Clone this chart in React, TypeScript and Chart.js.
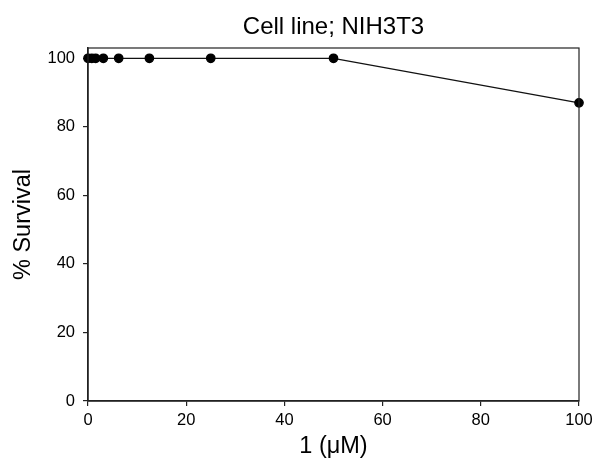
import React, { useEffect, useRef } from "react";
import { Chart, registerables } from "chart.js";

Chart.register(...registerables);

const concentrations = [0, 0.78, 1.56, 3.125, 6.25, 12.5, 25, 50, 100];
const survival = [100, 100, 100, 100, 100, 100, 100, 100, 87];
const xTicks = [0, 20, 40, 60, 80, 100];
const yTicks = [0, 20, 40, 60, 80, 100];

const FONT = "'Liberation Sans', Arial, sans-serif";

const boxPlugin = {
  id: "boxPlugin",
  afterDraw(chart: any) {
    const { ctx, chartArea } = chart;
    ctx.save();
    ctx.strokeStyle = "#222";
    ctx.lineWidth = 1.2;
    ctx.strokeRect(chartArea.left, chartArea.top, chartArea.right - chartArea.left, chartArea.bottom - chartArea.top);
    ctx.restore();
  },
};

export default function App() {
  const ref = useRef<HTMLCanvasElement>(null);
  useEffect(() => {
    document.body.style.margin = "0";
    const chart = new Chart(ref.current!, {
      type: "line",
      data: {
        datasets: [
          {
            data: concentrations.map((x, i) => ({ x, y: survival[i] })),
            borderColor: "#111",
            borderWidth: 1.3,
            backgroundColor: "#000",
            pointBackgroundColor: "#000",
            pointBorderColor: "#000",
            pointRadius: 4.2,
            clip: false as any,
            tension: 0,
            xAxisID: "x",
            yAxisID: "y",
          },
        ],
      },
      options: {
        animation: false,
        responsive: false,
        maintainAspectRatio: false,
        layout: { padding: { left: 0, right: 16, top: 0, bottom: 0 } },
        plugins: {
          legend: { display: false },
          tooltip: { enabled: false },
          title: { display: false },
        },
        scales: {
          xTop: {
            type: "linear",
            position: "top",
            min: 0,
            max: 100,
            afterFit: (s: any) => {
              s.height = 48;
              s.paddingRight = 0;
              s.paddingLeft = 0;
            },
            ticks: { display: false },
            grid: { display: false, drawTicks: false },
            border: { display: false },
            title: {
              display: true,
              text: "Cell line; NIH3T3",
              color: "#000",
              font: { family: FONT, size: 24 },
              padding: { top: 13, bottom: 0 },
            },
          },
          x: {
            type: "linear",
            min: 0,
            max: 100,
            afterBuildTicks: (s: any) => {
              s.ticks = xTicks.map((v) => ({ value: v }));
            },
            afterFit: (s: any) => {
              s.height = 63;
              s.paddingRight = 0;
              s.paddingLeft = 0;
            },
            ticks: {
              color: "#000",
              font: { family: FONT, size: 16.5 },
              padding: 5,
              maxRotation: 0,
            },
            grid: { display: true, drawOnChartArea: false, drawTicks: true, tickLength: 5, color: "#222", lineWidth: 1.2 },
            border: { display: true, color: "#222", width: 1.5 },
            title: {
              display: true,
              text: "1 (\u03BCM)",
              color: "#000",
              font: { family: FONT, size: 23.5 },
              padding: { top: 0, bottom: 3 },
            },
          },
          y: {
            type: "linear",
            min: 0,
            max: 103,
            afterBuildTicks: (s: any) => {
              s.ticks = yTicks.map((v) => ({ value: v }));
            },
            afterFit: (s: any) => {
              s.width = 88;
            },
            ticks: {
              color: "#000",
              font: { family: FONT, size: 16.5 },
              padding: 8,
            },
            grid: { display: true, drawOnChartArea: false, drawTicks: true, tickLength: 5, color: "#222", lineWidth: 1.2 },
            border: { display: true, color: "#222", width: 1.5 },
            title: {
              display: true,
              text: "% Survival",
              color: "#000",
              font: { family: FONT, size: 23.5 },
              padding: { top: 9, bottom: 0 },
            },
          },
        },
      },
      plugins: [boxPlugin],
    } as any);
    return () => chart.destroy();
  }, []);
  return (
    <div style={{ width: 595, height: 464, background: "#fff" }}>
      <canvas ref={ref} width={595} height={464} style={{ display: "block" }} />
    </div>
  );
}
